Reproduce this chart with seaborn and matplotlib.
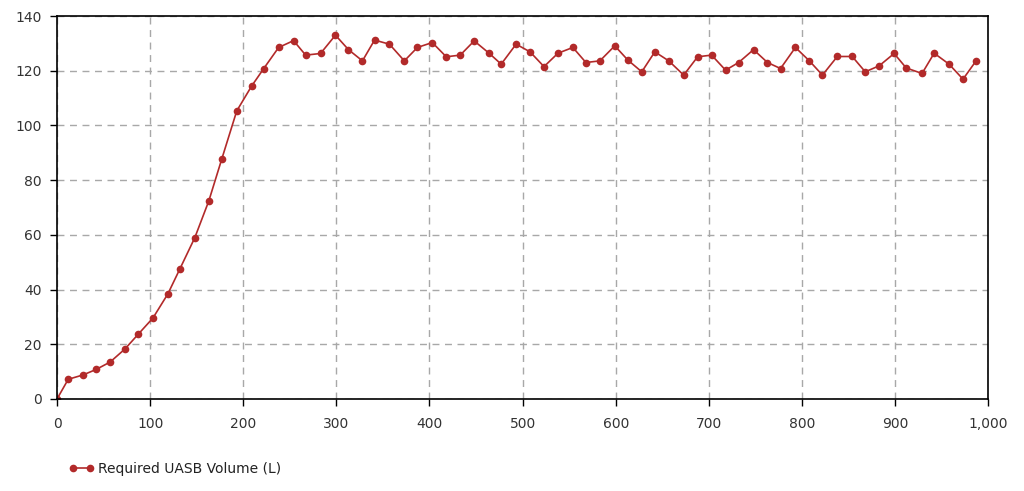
import matplotlib
matplotlib.use("Agg")
import matplotlib.pyplot as plt
from matplotlib.ticker import FuncFormatter
import seaborn as sns
import pandas as pd

# x values (days) and required volume
days = [0, 12, 28, 42, 57, 73, 87, 103, 119, 132, 148, 163, 177, 193,
        209, 222, 238, 254, 267, 283, 299, 313, 328, 341, 357, 373, 387, 403,
        418, 433, 448, 464, 477, 493, 508, 523, 538, 554, 568, 583, 599, 613,
        628, 642, 657, 673, 688, 703, 718, 732, 748, 763, 777, 793, 808,
        822, 838, 854, 868, 883, 899, 912, 929, 942, 958, 973, 987]
volume = [0, 7.2, 8.8, 10.8, 13.5, 18.3, 23.6, 29.6, 38.4, 47.6, 59.0, 72.4, 87.8, 105.3,
          114.4, 120.8, 128.5, 131.0, 125.7, 126.3, 133.0, 127.7, 123.6, 131.2, 129.7, 123.6, 128.5, 130.3,
          125.1, 125.7, 130.9, 126.4, 122.4, 129.7, 126.9, 121.5, 126.4, 128.5, 123.0, 123.6, 129.1, 123.9,
          119.6, 126.9, 123.6, 118.4, 125.1, 125.7, 120.2, 123.0, 127.7, 123.0, 120.8, 128.5, 123.6,
          118.4, 125.2, 125.2, 119.6, 121.8, 126.3, 121.0, 119.0, 126.4, 122.4, 116.9, 123.6]
x_ticks = [0, 100, 200, 300, 400, 500, 600, 700, 800, 900, 1000]
y_ticks = [0, 20, 40, 60, 80, 100, 120, 140]
series_name = "Required UASB Volume (L)"

df = pd.DataFrame({"day": days, "volume": volume})

sns.set_style("white")
plt.rcParams["font.family"] = ["DejaVu Sans"]

fig = plt.figure(figsize=(10.24, 4.91), dpi=100)
ax = fig.add_axes([0.0557, 0.1874, 0.9093, 0.78])

sns.lineplot(data=df, x="day", y="volume", ax=ax, color="#b22a2a",
             marker="o", markersize=5.5, markeredgewidth=0, linewidth=1.2,
             label=series_name, legend=False)

ax.set_xlim(0, 1000)
ax.set_ylim(0, 140)
ax.set_xticks(x_ticks)
ax.set_yticks(y_ticks)
ax.xaxis.set_major_formatter(FuncFormatter(lambda v, p: f"{int(v):,}"))
ax.set_xlabel("")
ax.set_ylabel("")

ax.grid(True, linestyle=(0, (5, 4)), color="#a8a8a8", linewidth=1)
ax.set_axisbelow(True)
for s in ax.spines.values():
    s.set_color("black")
    s.set_linewidth(1.2)
# seaborn's white style hides tick marks, turn them back on
ax.tick_params(axis="both", direction="out", length=5, width=1, color="black",
               labelsize=10, labelcolor="#333333", pad=6,
               bottom=True, left=True, top=False, right=False)
ax.tick_params(axis="x", pad=8)

handles, labels = ax.get_legend_handles_labels()
fig.legend(handles, labels, loc="lower left", bbox_to_anchor=(0.055, 0.005),
           frameon=False, fontsize=10, numpoints=2, handlelength=1.8,
           handletextpad=0.3, labelcolor="#222222")

fig.savefig("out.png", dpi=100)
